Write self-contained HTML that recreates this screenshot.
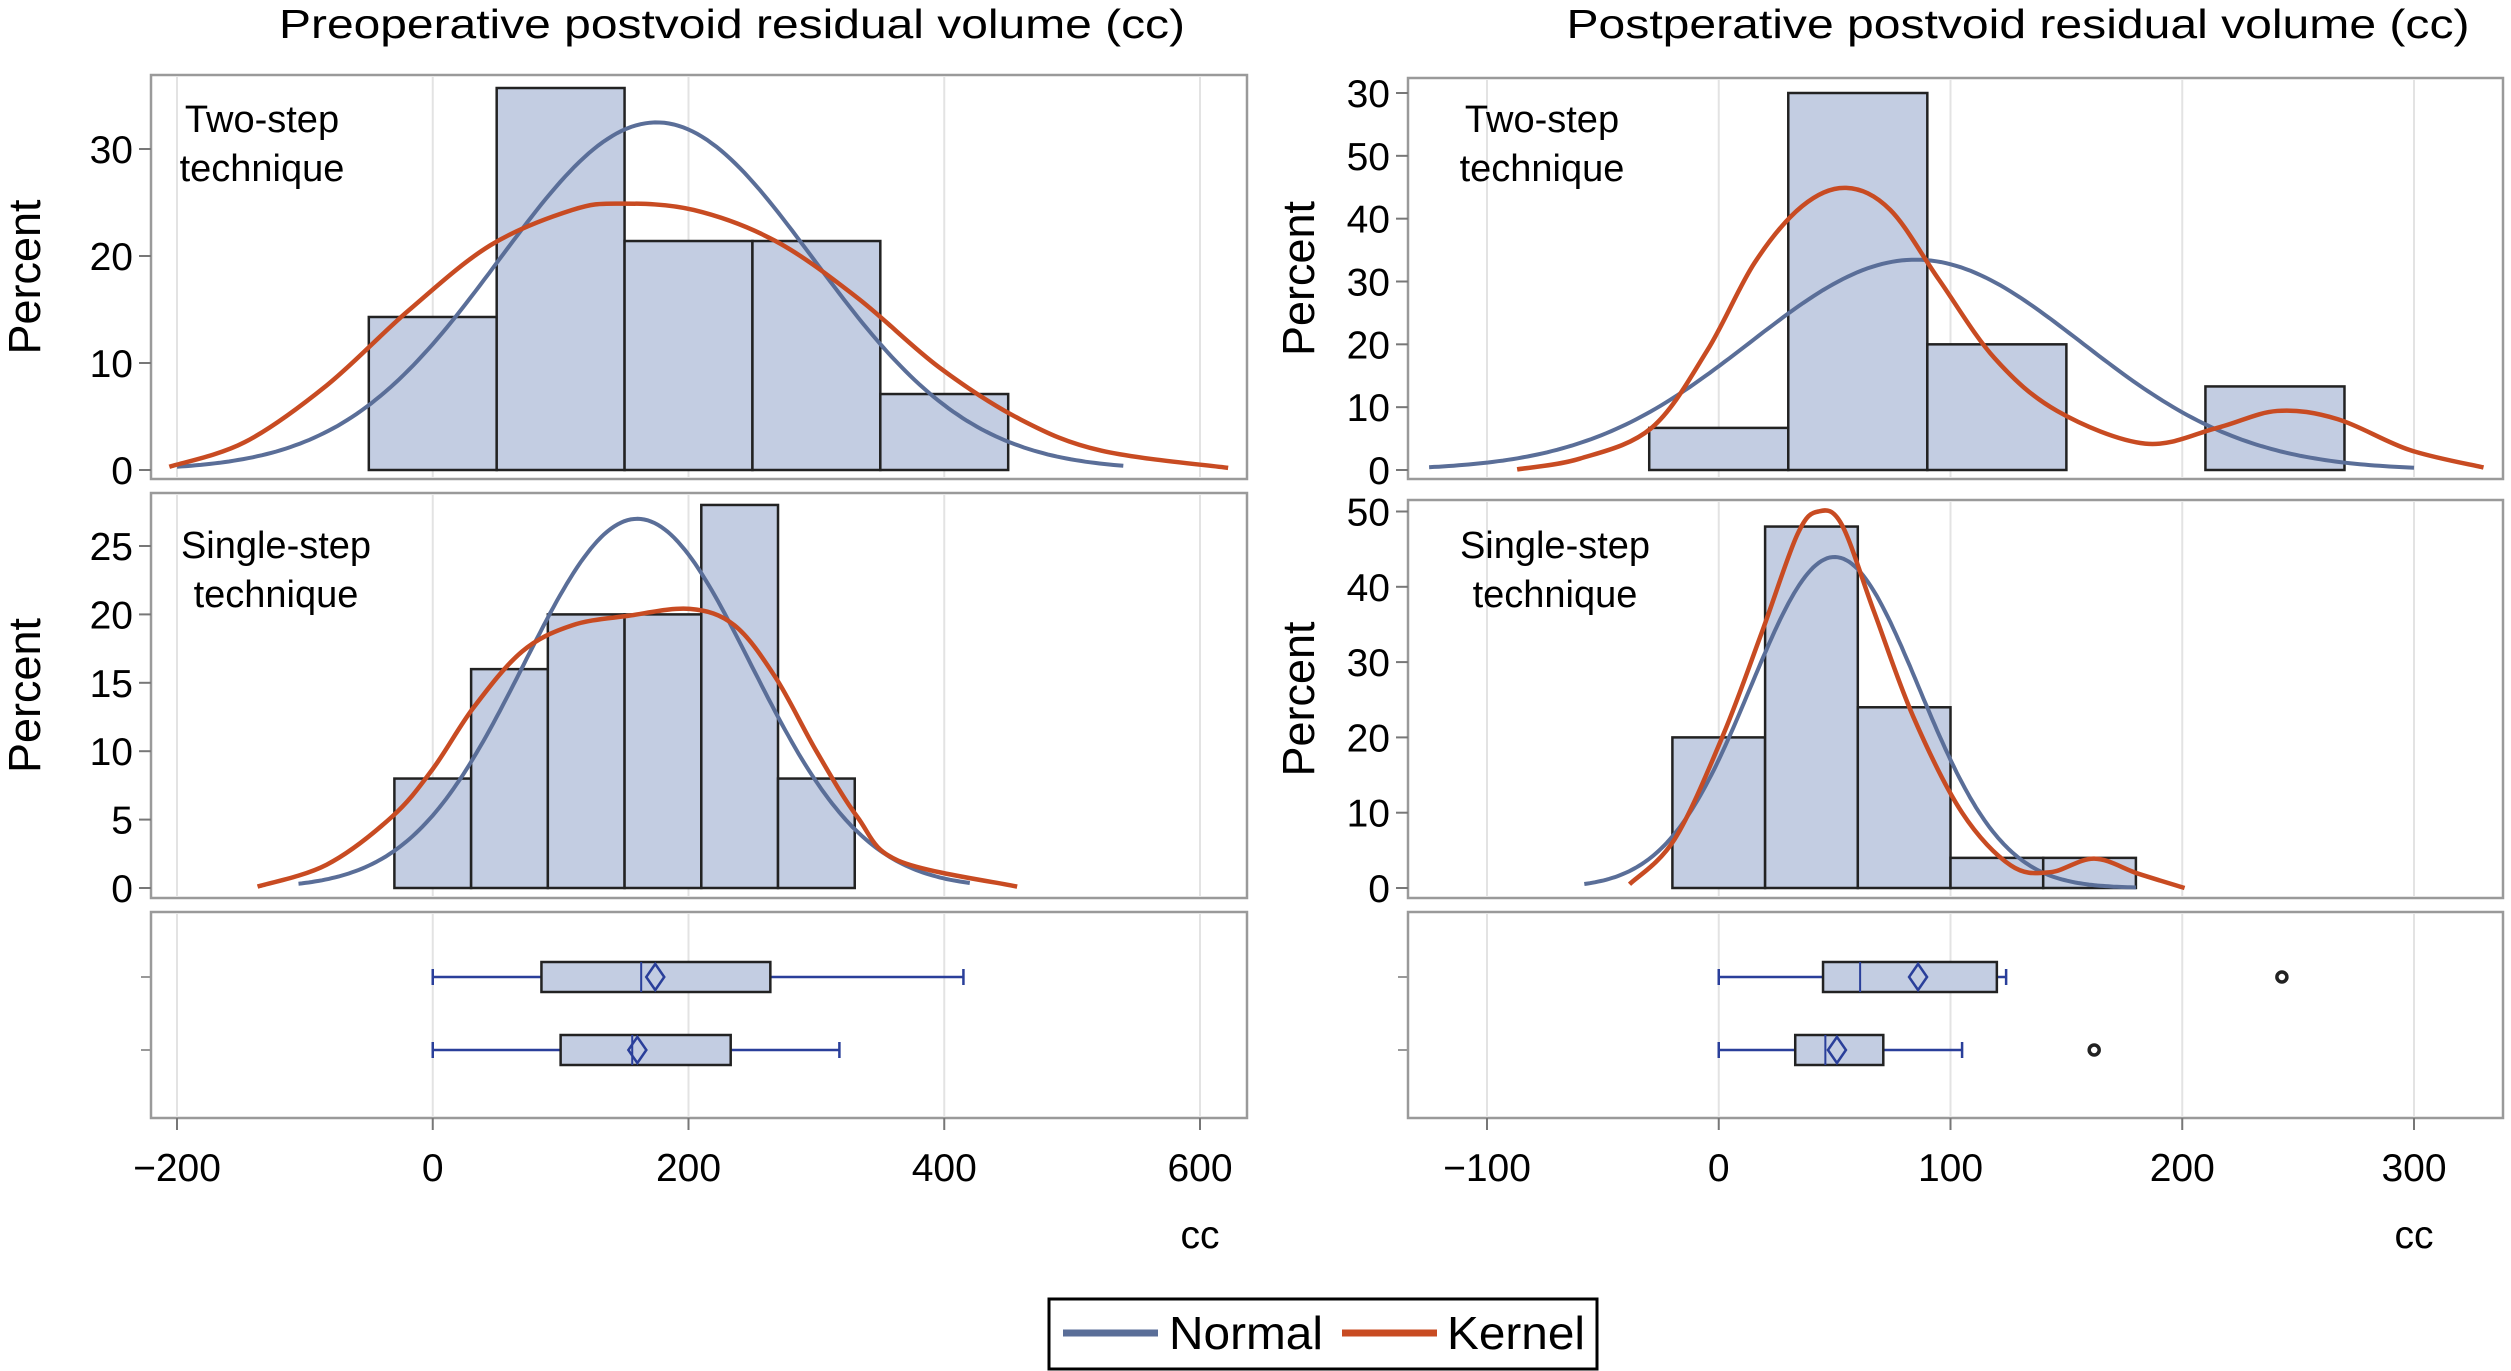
<!DOCTYPE html>
<html><head><meta charset="utf-8"><style>
html,body{margin:0;padding:0;background:#fff;}
svg{display:block;font-family:"Liberation Sans",Arial,sans-serif;}
</style></head><body>
<svg id="chart" width="2511" height="1371" viewBox="0 0 2511 1371" xmlns="http://www.w3.org/2000/svg">
<text x="732" y="38" font-size="41" text-anchor="middle" textLength="906" lengthAdjust="spacingAndGlyphs">Preoperative postvoid residual volume (cc)</text>
<text x="2018" y="38" font-size="41" text-anchor="middle" textLength="903" lengthAdjust="spacingAndGlyphs">Postperative postvoid residual volume (cc)</text>
<g>
<rect x="1049" y="1299" width="548" height="70" fill="#fff" stroke="#000" stroke-width="3"/>
<line x1="1063" y1="1333" x2="1158" y2="1333" stroke="#5a6e98" stroke-width="7"/>
<text x="1169" y="1349" font-size="46" textLength="154" lengthAdjust="spacingAndGlyphs">Normal</text>
<line x1="1342" y1="1333" x2="1437" y2="1333" stroke="#c84b22" stroke-width="7"/>
<text x="1447" y="1349" font-size="46" textLength="138" lengthAdjust="spacingAndGlyphs">Kernel</text>
</g>
<g id="plots"></g>
</svg>
<script>
// ===== Left (preoperative) data =====
const preTwoEdges = [-50, 50, 150, 250, 350, 450];
const preTwoPct = [14.3, 35.7, 21.4, 21.4, 7.1];
const preTwoNormal = [175, 122.8, -200, 540]; // mean, sd, from, to
const preTwoKernelX = [-206, -147, -83, -19, 45, 109, 147, 204, 268, 332, 396, 460, 523, 622];
const preTwoKernelY = [0.3, 2.6, 7.9, 14.9, 21, 24.3, 24.9, 24.3, 21.4, 16.1, 9.6, 4.7, 1.8, 0.2];
const preOneEdges = [-30, 30, 90, 150, 210, 270, 330];
const preOnePct = [8, 16, 20, 20, 28, 8];
const preOneNormal = [160, 88.7, -105, 420];
const preOneKernelX = [-137, -83, -32, 0, 32, 70, 109, 153, 201, 236, 268, 300, 332, 364, 457];
const preOneKernelY = [0.1, 1.7, 5.2, 8.7, 13.2, 17.3, 19.2, 19.9, 20.4, 19.2, 15.4, 10, 5.2, 2, 0.1];
// box: min, q1, median, q3, max, mean
const preBoxTwo = [0, 85, 163, 264, 415, 174];
const preBoxOne = [0, 100, 156, 233, 318, 160];
const preXTicks = [-200, 0, 200, 400, 600];
const preTwoYTicks = [0, 10, 20, 30];
const preOneYTicks = [0, 5, 10, 15, 20, 25];

// ===== Right (postoperative) data =====
const postTwoEdges = [-30, 30, 90, 150, 210, 270];
const postTwoPct = [6.7, 60, 20, 0, 13.3];
const postTwoNormal = [85, 71.5, -125, 300];
const postTwoKernelX = [-87, -60, -29, -5, 15.5, 36, 55, 74, 95, 119, 146, 184, 215, 241, 267, 298, 330];
const postTwoKernelY = [0.1, 1.8, 6.7, 19, 33, 42, 44.9, 41.4, 30.3, 17.8, 9.4, 4.2, 6.7, 9.4, 8.1, 3.2, 0.4];
const postOneEdges = [-20, 20, 60, 100, 140, 180];
const postOnePct = [20, 48, 24, 4, 4];
const postOneNormal = [50, 36.3, -58, 180];
const postOneKernelX = [-38.5, -19, 2, 19, 34, 43, 53, 67, 84, 105, 126, 143, 162, 181, 201];
const postOneKernelY = [0.5, 6.5, 20.4, 34.3, 47, 50, 48.3, 36.7, 22.7, 10, 3, 2.1, 3.9, 1.9, 0];
const postBoxTwo = [0, 45, 61, 120, 124, 86];
const postBoxOne = [0, 33, 46, 71, 105, 51];
const postOutTwo = [243];
const postOutOne = [162];
const postXTicks = [-100, 0, 100, 200, 300];
const postTwoYTicks = [0, 10, 20, 30, 40, 50, 60];
const postTwoYTickLabels = ["0", "10", "20", "30", "40", "50", "30"];
const postOneYTicks = [0, 10, 20, 30, 40, 50];

const NS = "http://www.w3.org/2000/svg";
const root = document.getElementById("plots");
const BLUE = "#5a6e98", RED = "#c84b22", FILL = "#c3cde2";
function mk(tag, attrs, parent) {
  const e = document.createElementNS(NS, tag);
  for (const k in attrs) e.setAttribute(k, attrs[k]);
  (parent || root).appendChild(e);
  return e;
}
function lin(d0, d1, r0, r1) { return v => r0 + (v - d0) * (r1 - r0) / (d1 - d0); }

function histPanel(cfg) {
  const g = mk("g", {});
  
  
  const X = cfg.x, Y = cfg.y;
  const fr = mk("rect", {x: cfg.fx0, y: cfg.fy0, width: cfg.fx1 - cfg.fx0, height: cfg.fy1 - cfg.fy0, fill: "#fff", stroke: "#9a9a9a", "stroke-width": 2.5}, g);
  
  
  cfg.xt.forEach(t => {
    const l = mk("line", {x1: X(t), x2: X(t), y1: cfg.fy0 + 2, y2: cfg.fy1 - 2, stroke: "#e3e3e3", "stroke-width": 2}, g);
    
    
  });
  cfg.yt.forEach((t, i) => {
    const tk = mk("line", {x1: cfg.fx0 - 12, x2: cfg.fx0, y1: Y(t), y2: Y(t), stroke: "#777", "stroke-width": 2}, g);
    
    
    const tx = mk("text", {x: cfg.fx0 - 18, y: Y(t) + 14, "font-size": 39, "text-anchor": "end"}, g);
    tx.textContent = cfg.ytl ? cfg.ytl[i] : String(t);
    
    
  });
  for (let i = 0; i < cfg.pct.length; i++) {
    const h = cfg.pct[i];
    const r = mk("rect", {x: X(cfg.edges[i]), y: Y(h), width: X(cfg.edges[i + 1]) - X(cfg.edges[i]), height: Y(0) - Y(h), fill: FILL, stroke: "#222", "stroke-width": 2.5}, g);
    
    
  }
  const bw = cfg.edges[1] - cfg.edges[0];
  const [mu, sd, a, b] = cfg.normal;
  let d = "";
  for (let k = 0; k <= 200; k++) {
    const v = a + (b - a) * k / 200;
    const p = bw * 100 * Math.exp(-0.5 * ((v - mu) / sd) ** 2) / (sd * Math.sqrt(2 * Math.PI));
    d += (k ? "L" : "M") + X(v).toFixed(1) + "," + Y(p).toFixed(1);
  }
  const nl = mk("path", {d: d, fill: "none", stroke: BLUE, "stroke-width": 4}, g);
  
  
  const pts = cfg.kx.map((v, i) => [X(v), Y(cfg.ky[i])]);
  let kd = "M" + pts[0][0] + "," + pts[0][1];
  for (let i = 0; i < pts.length - 1; i++) {
    const p0 = pts[Math.max(0, i - 1)], p1 = pts[i], p2 = pts[i + 1], p3 = pts[Math.min(pts.length - 1, i + 2)];
    const c1 = [p1[0] + (p2[0] - p0[0]) / 6, p1[1] + (p2[1] - p0[1]) / 6];
    const c2 = [p2[0] - (p3[0] - p1[0]) / 6, p2[1] - (p3[1] - p1[1]) / 6];
    kd += "C" + c1.join(",") + " " + c2.join(",") + " " + p2.join(",");
  }
  const kl = mk("path", {d: kd, fill: "none", stroke: RED, "stroke-width": 4.5}, g);
  
  
  const lab = mk("text", {x: cfg.lx, y: cfg.ly, "font-size": 38, "text-anchor": "middle"}, g);
  
  
  const t1 = mk("tspan", {x: cfg.lx, dy: 0}, lab); t1.textContent = cfg.label[0];
  const t2 = mk("tspan", {x: cfg.lx, dy: 49}, lab); t2.textContent = cfg.label[1];
  const py = (cfg.fy0 + cfg.fy1) / 2;
  const pl = mk("text", {x: cfg.px, y: py, "font-size": 45, "text-anchor": "middle", transform: "rotate(-90 " + cfg.px + " " + py + ")"}, g);
  pl.textContent = "Percent";
  
  
}

function boxPanel(cfg) {
  const g = mk("g", {});
  
  
  const X = cfg.x;
  const fr = mk("rect", {x: cfg.fx0, y: 912, width: cfg.fx1 - cfg.fx0, height: 206, fill: "#fff", stroke: "#9a9a9a", "stroke-width": 2.5}, g);
  
  
  cfg.xt.forEach(t => {
    const l = mk("line", {x1: X(t), x2: X(t), y1: 914, y2: 1116, stroke: "#e3e3e3", "stroke-width": 2}, g);
    
    
    const tk = mk("line", {x1: X(t), x2: X(t), y1: 1118, y2: 1130, stroke: "#777", "stroke-width": 2}, g);
    
    
    const tx = mk("text", {x: X(t), y: 1181, "font-size": 39, "text-anchor": "middle"}, g);
    tx.textContent = t < 0 ? "\u2212" + (-t) : String(t);
    
    
  });
  const cc = mk("text", {x: X(cfg.xt[cfg.xt.length - 1]), y: 1248, "font-size": 39, "text-anchor": "middle"}, g);
  cc.textContent = "cc";
  
  
  [[cfg.b1, 977, cfg.o1], [cfg.b2, 1050, cfg.o2]].forEach(([b, yc, outs]) => {
    const bg = mk("g", {}, g);
    
    
    mk("line", {x1: cfg.fx0 - 10, x2: cfg.fx0, y1: yc, y2: yc, stroke: "#999", "stroke-width": 2}, bg);
    mk("line", {x1: X(b[0]), x2: X(b[4]), y1: yc, y2: yc, stroke: "#2a3f9a", "stroke-width": 2.5}, bg);
    mk("line", {x1: X(b[0]), x2: X(b[0]), y1: yc - 8, y2: yc + 8, stroke: "#2a3f9a", "stroke-width": 2.5}, bg);
    mk("line", {x1: X(b[4]), x2: X(b[4]), y1: yc - 8, y2: yc + 8, stroke: "#2a3f9a", "stroke-width": 2.5}, bg);
    mk("rect", {x: X(b[1]), y: yc - 15, width: X(b[3]) - X(b[1]), height: 30, fill: FILL, stroke: "#222", "stroke-width": 2.5}, bg);
    mk("line", {x1: X(b[2]), x2: X(b[2]), y1: yc - 15, y2: yc + 15, stroke: "#2a3f9a", "stroke-width": 2}, bg);
    const mx = X(b[5]);
    mk("path", {d: `M${mx},${yc - 13}L${mx + 9},${yc}L${mx},${yc + 13}L${mx - 9},${yc}Z`, fill: "none", stroke: "#2a3f9a", "stroke-width": 2.5}, bg);
    (outs || []).forEach(o => {
      const c = mk("circle", {cx: X(o), cy: yc, r: 5, fill: "none", stroke: "#222", "stroke-width": 3.5}, bg);
      
      
    });
  });
}

const XL = lin(-200, 600, 177, 1200);
const XR = lin(-100, 300, 1487, 2414);
histPanel({name: "pre-two-step-panel", x: XL, y: lin(0, 30, 470, 149), fx0: 151, fx1: 1247, fy0: 75, fy1: 479, xt: preXTicks, yt: preTwoYTicks,
  edges: preTwoEdges, pct: preTwoPct, normal: preTwoNormal, kx: preTwoKernelX, ky: preTwoKernelY, label: ["Two-step", "technique"], lx: 262, ly: 132, px: 40});
histPanel({name: "pre-single-step-panel", x: XL, y: lin(0, 25, 888, 546), fx0: 151, fx1: 1247, fy0: 493, fy1: 898, xt: preXTicks, yt: preOneYTicks,
  edges: preOneEdges, pct: preOnePct, normal: preOneNormal, kx: preOneKernelX, ky: preOneKernelY, label: ["Single-step", "technique"], lx: 276, ly: 558, px: 40});
boxPanel({name: "pre-box-panel", x: XL, fx0: 151, fx1: 1247, xt: preXTicks, b1: preBoxTwo, b2: preBoxOne});
histPanel({name: "post-two-step-panel", x: XR, y: lin(0, 60, 470, 93), fx0: 1408, fx1: 2503, fy0: 78, fy1: 479, xt: postXTicks, yt: postTwoYTicks, ytl: postTwoYTickLabels,
  edges: postTwoEdges, pct: postTwoPct, normal: postTwoNormal, kx: postTwoKernelX, ky: postTwoKernelY, label: ["Two-step", "technique"], lx: 1542, ly: 132, px: 1314});
histPanel({name: "post-single-step-panel", x: XR, y: lin(0, 50, 888, 511.5), fx0: 1408, fx1: 2503, fy0: 500, fy1: 898, xt: postXTicks, yt: postOneYTicks,
  edges: postOneEdges, pct: postOnePct, normal: postOneNormal, kx: postOneKernelX, ky: postOneKernelY, label: ["Single-step", "technique"], lx: 1555, ly: 558, px: 1314});
boxPanel({name: "post-box-panel", x: XR, fx0: 1408, fx1: 2503, xt: postXTicks, b1: postBoxTwo, b2: postBoxOne, o1: postOutTwo, o2: postOutOne});
</script>
</body></html>
